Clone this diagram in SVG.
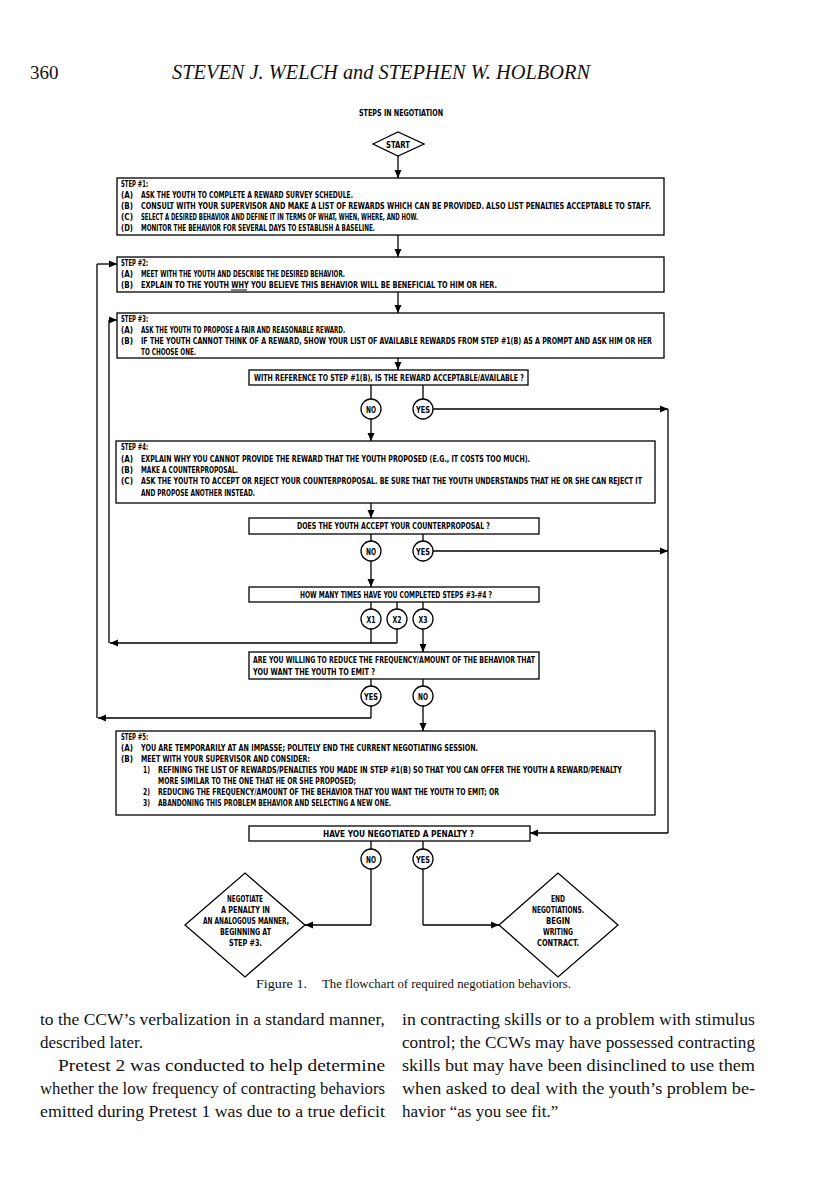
<svg xmlns="http://www.w3.org/2000/svg" width="816" height="1195" viewBox="0 0 816 1195">
<defs>
<marker id="ah" markerWidth="9" markerHeight="9" refX="8" refY="4" orient="auto" markerUnits="userSpaceOnUse">
<path d="M0,0.5 L8,4 L0,7.5 Z" fill="#000"/>
</marker>
<style>
.bx{fill:#fff;stroke:#000;stroke-width:1.3}
.ln{fill:none;stroke:#000;stroke-width:1.3}
.ar{fill:none;stroke:#000;stroke-width:1.3;marker-end:url(#ah)}
.t{font-family:"Liberation Sans Narrow","DejaVu Sans Condensed","Liberation Sans",sans-serif;font-weight:bold;font-size:9px;fill:#000}
.c{text-anchor:middle}
.s{font-family:"Liberation Serif",serif;fill:#111}
.b{font-family:"Liberation Serif",serif;font-size:17px;fill:#111}
</style>
</defs>
<rect width="816" height="1195" fill="#fff"/>

<g id="header">
<text class="s" x="30" y="79" font-size="19">360</text>
<text class="s" x="172" y="79" font-size="20" font-style="italic" textLength="418" lengthAdjust="spacingAndGlyphs">STEVEN J. WELCH and STEPHEN W. HOLBORN</text>
</g>

<text id="title" class="t" x="359" y="116" textLength="84" lengthAdjust="spacingAndGlyphs">STEPS IN NEGOTIATION</text>

<g id="connectors">
<path class="ar" d="M398,156 V178"/>
<path class="ar" d="M398,235 V257"/>
<path class="ar" d="M398,292 V313"/>
<path class="ar" d="M398,358 V370"/>
<path class="ln" d="M371,385 V399 M423,385 V399"/>
<path class="ar" d="M433,409 H668"/>
<path class="ln" d="M668,409 V833"/>
<path class="ar" d="M668,833 H530"/>
<path class="ar" d="M371,419 V441"/>
<path class="ar" d="M371,503 V518"/>
<path class="ln" d="M371,534 V541 M423,534 V541"/>
<path class="ar" d="M433,551 H668"/>
<path class="ar" d="M371,561 V587"/>
<path class="ln" d="M371,602 V609 M397,602 V609 M423,602 V609"/>
<path class="ln" d="M371,629 V643 M397,629 V643"/>
<path class="ar" d="M397,643 H110"/>
<path class="ln" d="M109,643 V320"/>
<path class="ar" d="M109,320 H117"/>
<path class="ar" d="M423,629 V652"/>
<path class="ln" d="M371,679 V686 M423,679 V686"/>
<path class="ln" d="M371,706 V718"/>
<path class="ar" d="M371,718 H98"/>
<path class="ln" d="M97,718 V264"/>
<path class="ar" d="M97,264 H117"/>
<path class="ar" d="M423,706 V731"/>
<path class="ln" d="M371,841 V849 M423,841 V849"/>
<path class="ln" d="M371,869 V925"/>
<path class="ar" d="M371,925 H305"/>
<path class="ln" d="M423,869 V925"/>
<path class="ar" d="M423,925 H499"/>
</g>

<g id="start">
<polygon class="bx" points="373,144 398,132 424,144 398,156"/>
<text class="t" x="386" y="147.5" textLength="24" lengthAdjust="spacingAndGlyphs">START</text>
</g>

<g id="step1">
<rect class="bx" x="117" y="178" width="547" height="57"/>
<text class="t" x="121" y="187" textLength="27" lengthAdjust="spacingAndGlyphs">STEP #1:</text>
<text class="t" x="121" y="198" textLength="12" lengthAdjust="spacingAndGlyphs">(A)</text><text class="t" x="141" y="198" textLength="212" lengthAdjust="spacingAndGlyphs">ASK THE YOUTH TO COMPLETE A REWARD SURVEY SCHEDULE.</text>
<text class="t" x="121" y="209" textLength="12" lengthAdjust="spacingAndGlyphs">(B)</text><text class="t" x="141" y="209" textLength="510" lengthAdjust="spacingAndGlyphs">CONSULT WITH YOUR SUPERVISOR AND MAKE A LIST OF REWARDS WHICH CAN BE PROVIDED.  ALSO LIST PENALTIES ACCEPTABLE TO STAFF.</text>
<text class="t" x="121" y="220" textLength="12" lengthAdjust="spacingAndGlyphs">(C)</text><text class="t" x="141" y="220" textLength="277" lengthAdjust="spacingAndGlyphs">SELECT A DESIRED BEHAVIOR AND DEFINE IT IN TERMS OF WHAT, WHEN, WHERE, AND HOW.</text>
<text class="t" x="121" y="231" textLength="12" lengthAdjust="spacingAndGlyphs">(D)</text><text class="t" x="141" y="231" textLength="234" lengthAdjust="spacingAndGlyphs">MONITOR THE BEHAVIOR FOR SEVERAL DAYS TO ESTABLISH A BASELINE.</text>
</g>

<g id="step2">
<rect class="bx" x="117" y="257" width="547" height="35"/>
<text class="t" x="121" y="266" textLength="27" lengthAdjust="spacingAndGlyphs">STEP #2:</text>
<text class="t" x="121" y="277" textLength="12" lengthAdjust="spacingAndGlyphs">(A)</text><text class="t" x="141" y="277" textLength="204" lengthAdjust="spacingAndGlyphs">MEET WITH THE YOUTH AND DESCRIBE THE DESIRED BEHAVIOR.</text>
<text class="t" x="121" y="288" textLength="12" lengthAdjust="spacingAndGlyphs">(B)</text><text class="t" x="141" y="288" textLength="356" lengthAdjust="spacingAndGlyphs">EXPLAIN TO THE YOUTH WHY YOU BELIEVE THIS BEHAVIOR WILL BE BENEFICIAL TO HIM OR HER.</text>
<path d="M231,290 H247" stroke="#000" stroke-width="1"/>
</g>

<g id="step3">
<rect class="bx" x="117" y="313" width="547" height="45"/>
<text class="t" x="121" y="322" textLength="27" lengthAdjust="spacingAndGlyphs">STEP #3:</text>
<text class="t" x="121" y="333" textLength="12" lengthAdjust="spacingAndGlyphs">(A)</text><text class="t" x="141" y="333" textLength="204" lengthAdjust="spacingAndGlyphs">ASK THE YOUTH TO PROPOSE A FAIR AND REASONABLE REWARD.</text>
<text class="t" x="121" y="344" textLength="12" lengthAdjust="spacingAndGlyphs">(B)</text><text class="t" x="141" y="344" textLength="511" lengthAdjust="spacingAndGlyphs">IF THE YOUTH CANNOT THINK OF A REWARD, SHOW YOUR LIST OF AVAILABLE REWARDS FROM STEP #1(B) AS A PROMPT AND ASK HIM OR HER</text>
<text class="t" x="141" y="355" textLength="55" lengthAdjust="spacingAndGlyphs">TO CHOOSE ONE.</text>
</g>

<g id="decision1">
<rect class="bx" x="249" y="370" width="279" height="15"/>
<text class="t" x="254" y="381" textLength="270" lengthAdjust="spacingAndGlyphs">WITH REFERENCE TO STEP #1(B), IS THE REWARD ACCEPTABLE/AVAILABLE ?</text>
</g>
<g id="d1-no"><circle class="bx" cx="371" cy="409" r="10"/><text class="t" x="366" y="412.5" textLength="10" lengthAdjust="spacingAndGlyphs">NO</text></g>
<g id="d1-yes"><circle class="bx" cx="423" cy="409" r="10"/><text class="t" x="416" y="412.5" textLength="14" lengthAdjust="spacingAndGlyphs">YES</text></g>

<g id="step4">
<rect class="bx" x="116" y="441" width="539" height="62"/>
<text class="t" x="121" y="450" textLength="27" lengthAdjust="spacingAndGlyphs">STEP #4:</text>
<text class="t" x="121" y="462" textLength="12" lengthAdjust="spacingAndGlyphs">(A)</text><text class="t" x="141" y="462" textLength="389" lengthAdjust="spacingAndGlyphs">EXPLAIN WHY YOU CANNOT PROVIDE THE REWARD THAT THE YOUTH PROPOSED (E.G., IT COSTS TOO MUCH).</text>
<text class="t" x="121" y="473" textLength="12" lengthAdjust="spacingAndGlyphs">(B)</text><text class="t" x="141" y="473" textLength="97" lengthAdjust="spacingAndGlyphs">MAKE A COUNTERPROPOSAL.</text>
<text class="t" x="121" y="484" textLength="12" lengthAdjust="spacingAndGlyphs">(C)</text><text class="t" x="141" y="484" textLength="501" lengthAdjust="spacingAndGlyphs">ASK THE YOUTH TO ACCEPT OR REJECT YOUR COUNTERPROPOSAL. BE SURE THAT THE YOUTH UNDERSTANDS THAT HE OR SHE CAN REJECT IT</text>
<text class="t" x="141" y="496" textLength="114" lengthAdjust="spacingAndGlyphs">AND PROPOSE ANOTHER INSTEAD.</text>
</g>

<g id="decision2">
<rect class="bx" x="249" y="518" width="290" height="16"/>
<text class="t" x="297" y="529" textLength="193" lengthAdjust="spacingAndGlyphs">DOES THE YOUTH ACCEPT YOUR COUNTERPROPOSAL ?</text>
</g>
<g id="d2-no"><circle class="bx" cx="371" cy="551" r="10"/><text class="t" x="366" y="554.5" textLength="10" lengthAdjust="spacingAndGlyphs">NO</text></g>
<g id="d2-yes"><circle class="bx" cx="423" cy="551" r="10"/><text class="t" x="416" y="554.5" textLength="14" lengthAdjust="spacingAndGlyphs">YES</text></g>

<g id="decision3">
<rect class="bx" x="249" y="587" width="290" height="15"/>
<text class="t" x="300" y="598" textLength="192" lengthAdjust="spacingAndGlyphs">HOW MANY TIMES HAVE YOU COMPLETED STEPS #3-#4 ?</text>
</g>
<g id="d3-x1"><circle class="bx" cx="371" cy="619" r="10"/><text class="t" x="366.5" y="622.5" textLength="9" lengthAdjust="spacingAndGlyphs">X1</text></g>
<g id="d3-x2"><circle class="bx" cx="397" cy="619" r="10"/><text class="t" x="392.5" y="622.5" textLength="9" lengthAdjust="spacingAndGlyphs">X2</text></g>
<g id="d3-x3"><circle class="bx" cx="423" cy="619" r="10"/><text class="t" x="418.5" y="622.5" textLength="9" lengthAdjust="spacingAndGlyphs">X3</text></g>

<g id="decision4">
<rect class="bx" x="249" y="652" width="290" height="27"/>
<text class="t" x="253" y="663" textLength="282" lengthAdjust="spacingAndGlyphs">ARE YOU WILLING TO REDUCE THE FREQUENCY/AMOUNT OF THE BEHAVIOR THAT</text>
<text class="t" x="253" y="675" textLength="122" lengthAdjust="spacingAndGlyphs">YOU WANT THE YOUTH TO EMIT ?</text>
</g>
<g id="d4-yes"><circle class="bx" cx="371" cy="696" r="10"/><text class="t" x="364" y="699.5" textLength="14" lengthAdjust="spacingAndGlyphs">YES</text></g>
<g id="d4-no"><circle class="bx" cx="423" cy="696" r="10"/><text class="t" x="418" y="699.5" textLength="10" lengthAdjust="spacingAndGlyphs">NO</text></g>

<g id="step5">
<rect class="bx" x="116" y="731" width="539" height="84"/>
<text class="t" x="121" y="740" textLength="27" lengthAdjust="spacingAndGlyphs">STEP #5:</text>
<text class="t" x="121" y="751" textLength="12" lengthAdjust="spacingAndGlyphs">(A)</text><text class="t" x="141" y="751" textLength="337" lengthAdjust="spacingAndGlyphs">YOU ARE TEMPORARILY AT AN IMPASSE; POLITELY END THE CURRENT NEGOTIATING SESSION.</text>
<text class="t" x="121" y="762" textLength="12" lengthAdjust="spacingAndGlyphs">(B)</text><text class="t" x="141" y="762" textLength="169" lengthAdjust="spacingAndGlyphs">MEET WITH YOUR SUPERVISOR AND CONSIDER:</text>
<text class="t" x="143" y="773" textLength="7" lengthAdjust="spacingAndGlyphs">1)</text><text class="t" x="158" y="773" textLength="464" lengthAdjust="spacingAndGlyphs">REFINING THE LIST OF REWARDS/PENALTIES YOU MADE IN STEP #1(B) SO THAT YOU CAN OFFER THE YOUTH A REWARD/PENALTY</text>
<text class="t" x="158" y="784" textLength="198" lengthAdjust="spacingAndGlyphs">MORE SIMILAR TO THE ONE THAT HE OR SHE PROPOSED;</text>
<text class="t" x="143" y="795" textLength="7" lengthAdjust="spacingAndGlyphs">2)</text><text class="t" x="158" y="795" textLength="341" lengthAdjust="spacingAndGlyphs">REDUCING THE FREQUENCY/AMOUNT OF THE BEHAVIOR THAT YOU WANT THE YOUTH TO EMIT; OR</text>
<text class="t" x="143" y="806" textLength="7" lengthAdjust="spacingAndGlyphs">3)</text><text class="t" x="158" y="806" textLength="233" lengthAdjust="spacingAndGlyphs">ABANDONING THIS PROBLEM BEHAVIOR AND SELECTING A NEW ONE.</text>
</g>

<g id="penalty">
<rect class="bx" x="249" y="826" width="281" height="15"/>
<text class="t" x="323" y="837" textLength="151" lengthAdjust="spacingAndGlyphs">HAVE YOU NEGOTIATED A PENALTY ?</text>
</g>
<g id="p-no"><circle class="bx" cx="371" cy="859" r="10"/><text class="t" x="366" y="862.5" textLength="10" lengthAdjust="spacingAndGlyphs">NO</text></g>
<g id="p-yes"><circle class="bx" cx="423" cy="859" r="10"/><text class="t" x="416" y="862.5" textLength="14" lengthAdjust="spacingAndGlyphs">YES</text></g>

<g id="negotiate-penalty">
<polygon class="bx" points="185,925 245,873 305,925 245,977"/>
<text class="t" x="227" y="902" textLength="36" lengthAdjust="spacingAndGlyphs">NEGOTIATE</text>
<text class="t" x="221" y="913" textLength="49" lengthAdjust="spacingAndGlyphs">A PENALTY IN</text>
<text class="t" x="203" y="924" textLength="86" lengthAdjust="spacingAndGlyphs">AN ANALOGOUS MANNER,</text>
<text class="t" x="220" y="935" textLength="51" lengthAdjust="spacingAndGlyphs">BEGINNING AT</text>
<text class="t" x="229" y="946" textLength="33" lengthAdjust="spacingAndGlyphs">STEP #3.</text>
</g>

<g id="end">
<polygon class="bx" points="499,925 558,873 618,925 558,977"/>
<text class="t" x="551" y="902" textLength="14" lengthAdjust="spacingAndGlyphs">END</text>
<text class="t" x="532" y="913" textLength="52" lengthAdjust="spacingAndGlyphs">NEGOTIATIONS.</text>
<text class="t" x="546" y="924" textLength="24" lengthAdjust="spacingAndGlyphs">BEGIN</text>
<text class="t" x="543" y="935" textLength="30" lengthAdjust="spacingAndGlyphs">WRITING</text>
<text class="t" x="537" y="946" textLength="42" lengthAdjust="spacingAndGlyphs">CONTRACT.</text>
</g>

<g id="caption">
<text class="s" x="256" y="988" font-size="13.5" textLength="51" lengthAdjust="spacingAndGlyphs">Figure 1.</text>
<text class="s" x="322" y="988" font-size="13.5" textLength="249" lengthAdjust="spacingAndGlyphs">The flowchart of required negotiation behaviors.</text>
</g>

<g id="body">
<text class="b" x="40" y="1025" textLength="345" lengthAdjust="spacingAndGlyphs">to the CCW’s verbalization in a standard manner,</text>
<text class="b" x="40" y="1048">described later.</text>
<text class="b" x="58" y="1071" textLength="327" lengthAdjust="spacingAndGlyphs">Pretest 2 was conducted to help determine</text>
<text class="b" x="40" y="1094" textLength="345" lengthAdjust="spacingAndGlyphs">whether the low frequency of contracting behaviors</text>
<text class="b" x="40" y="1117" textLength="345" lengthAdjust="spacingAndGlyphs">emitted during Pretest 1 was due to a true deficit</text>
<text class="b" x="402" y="1025" textLength="353" lengthAdjust="spacingAndGlyphs">in contracting skills or to a problem with stimulus</text>
<text class="b" x="402" y="1048" textLength="353" lengthAdjust="spacingAndGlyphs">control; the CCWs may have possessed contracting</text>
<text class="b" x="402" y="1071" textLength="353" lengthAdjust="spacingAndGlyphs">skills but may have been disinclined to use them</text>
<text class="b" x="402" y="1094" textLength="353" lengthAdjust="spacingAndGlyphs">when asked to deal with the youth’s problem be-</text>
<text class="b" x="402" y="1117">havior “as you see fit.”</text>
</g>
</svg>
